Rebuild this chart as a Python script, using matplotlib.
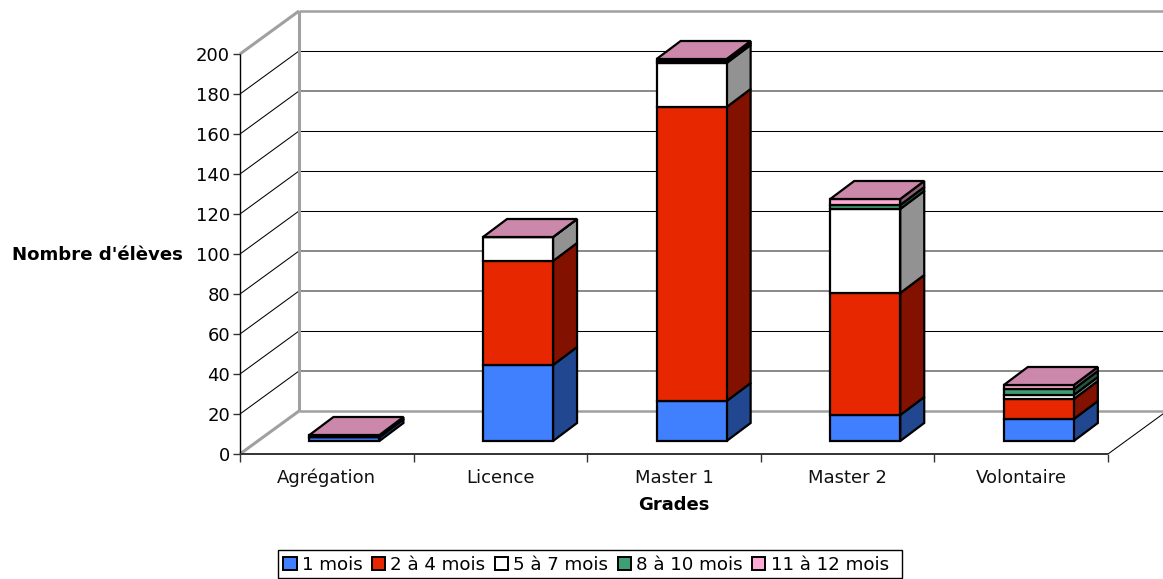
import matplotlib
matplotlib.use('Agg')
import matplotlib.pyplot as plt
from matplotlib.patches import Polygon, Patch, Rectangle

categories = ['Agrégation', 'Licence', 'Master 1', 'Master 2', 'Volontaire']
series_names = ['1 mois', '2 à 4 mois', '5 à 7 mois', '8 à 10 mois', '11 à 12 mois']
mois_1 = [2, 38, 20, 13, 11]
mois_2_4 = [0, 52, 147, 61, 10]
mois_5_7 = [0, 12, 22, 42, 2]
mois_8_10 = [0, 0, 1, 2, 3]
mois_11_12 = [1, 0, 1, 3, 2]
series = [mois_1, mois_2_4, mois_5_7, mois_8_10, mois_11_12]
y_ticks = list(range(0, 201, 20))

front = ['#4080FF', '#E62700', '#FFFFFF', '#3F9F74', '#FFAAD4']
side = ['#20478F', '#821100', '#929292', '#20583F', '#8E5E76']
top_col = '#CC88AA'
GREY = '#A0A0A0'
GREY_GRID = {20, 60, 80, 160}

W, H = 1163, 579
fig = plt.figure(figsize=(W / 100, H / 100), dpi=100)
plt.rcParams['font.family'] = ['DejaVu Sans']
ax = fig.add_axes([240 / W, 1 - 454 / H, 868 / W, 400 / H])
ax.set_xlim(0, 5)
ax.set_ylim(0, 200)
for s in ax.spines.values():
    s.set_visible(False)
ax.patch.set_visible(False)

WALL_DX = 59 / 173.6
WALL_DY = 21.5
BAR_X = 0.4
BAR_W = 70 / 173.6
BAR_Y = 6.5
BAR_DX = 24 / 173.6
BAR_DY = 9.0
FS = 13


def line(xs, ys, c, lw, z=1):
    ax.plot(xs, ys, color=c, lw=lw, zorder=z, clip_on=False, solid_capstyle='butt')


# walls and grid
for v in y_ticks:
    if v in (0, 200):
        continue
    c, lw = ('#808080', 1.3) if v in GREY_GRID else ('#000000', 0.75)
    line([WALL_DX, 5 + WALL_DX], [v + WALL_DY] * 2, c, lw)
    line([0, WALL_DX], [v, v + WALL_DY], '#000000', 0.75)
line([WALL_DX, 5 + WALL_DX], [200 + WALL_DY] * 2, GREY, 1.8)
line([WALL_DX, 5 + WALL_DX], [WALL_DY] * 2, GREY, 1.8)
line([WALL_DX, WALL_DX], [WALL_DY, 200 + WALL_DY], GREY, 2.2)
line([0, WALL_DX], [200, 200 + WALL_DY], GREY, 2.2)
line([0, WALL_DX], [0, WALL_DY], GREY, 2.2)
line([5, 5 + WALL_DX], [0, WALL_DY], '#000000', 0.75)

# axes lines and ticks
line([0, 0], [0, 200], '#000000', 1.0, 2)
line([0, 5], [0, 0], '#333333', 1.4, 2)
ax.set_yticks(y_ticks)
ax.set_xticks(range(6))
ax.set_xticklabels([])
ax.tick_params(axis='y', length=5.2, width=1, color='#333333', labelsize=FS, pad=2)
ax.tick_params(axis='x', length=5.5, width=1, color='#333333')
for i, c in enumerate(categories):
    ax.annotate(c, (i + 0.5, 0), xytext=(0, -17), textcoords='offset points',
                ha='center', va='center', fontsize=FS, color='#111111', annotation_clip=False)
fig.text(97.5 / W, 1 - 255 / H, "Nombre d'élèves", ha='center', va='center', fontsize=13.1, fontweight='bold')
fig.text(674 / W, 1 - 505 / H, 'Grades', ha='center', va='center', fontsize=FS, fontweight='bold')

# bars
EDGE = dict(edgecolor='black', linewidth=1.6, joinstyle='miter', clip_on=False, zorder=5)
for i in range(len(categories)):
    x0 = i + BAR_X
    x1 = x0 + BAR_W
    base = BAR_Y
    for k, vals in enumerate(series):
        t = base + vals[i]
        ax.add_patch(Polygon([(x1, base), (x1 + BAR_DX, base + BAR_DY), (x1 + BAR_DX, t + BAR_DY), (x1, t)],
                             facecolor=side[k], **EDGE))
        ax.add_patch(Polygon([(x0, base), (x1, base), (x1, t), (x0, t)], facecolor=front[k], **EDGE))
        base = t
    ax.add_patch(Polygon([(x0, base), (x1, base), (x1 + BAR_DX, base + BAR_DY), (x0 + BAR_DX, base + BAR_DY)],
                         facecolor=top_col, **EDGE))

# legend
fig.add_artist(Rectangle((277.5 / W, 1 - 578 / H), 624 / W, 28 / H, transform=fig.transFigure,
                         facecolor='white', edgecolor='black', linewidth=1.0))
handles = [Patch(facecolor=f, edgecolor='black', linewidth=1.4) for f in front]
leg = fig.legend(handles, series_names, ncol=5, loc='center', bbox_to_anchor=(586 / W, 1 - 564.5 / H),
                 fontsize=13.15, frameon=False,
                 handlelength=0.72, handleheight=0.72, handletextpad=0.3, columnspacing=0.5,
                 borderpad=0, borderaxespad=0)

fig.savefig('out.png', dpi=100)
